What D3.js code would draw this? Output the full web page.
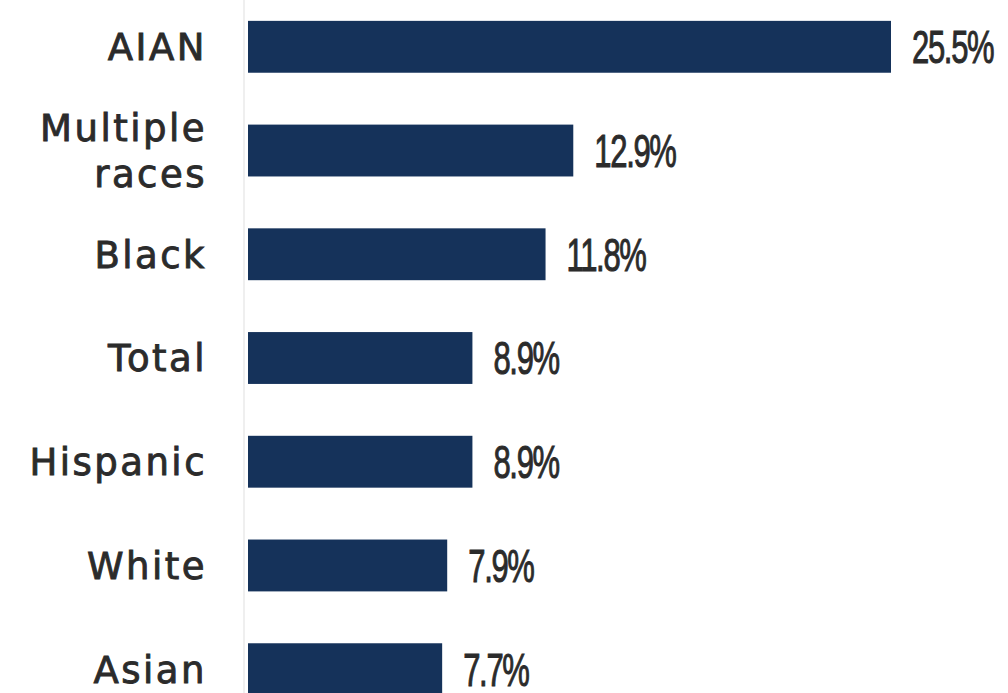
<!DOCTYPE html>
<html lang="en">
    <head>
        <meta charset="utf-8"/>
        <script src="https://d3js.org/d3.v7.min.js"></script>
        <style>
            body { margin: 0; background: #fff; }
        </style>
    </head>
    <body>
        <div id="chart"></div>
    </body>
    <script>
        var categories = ["AIAN", "Multiple races", "Black", "Total", "Hispanic", "White", "Asian"];
        var values = [25.5, 12.9, 11.8, 8.9, 8.9, 7.9, 7.7];
        var valueLabels = ["25.5%", "12.9%", "11.8%", "8.9%", "8.9%", "7.9%", "7.7%"];

        var width = 1008;
        var height = 693;

        var data = categories.map(function (c, i) {
            return { name: c, value: values[i], label: valueLabels[i] };
        });

        var svg = d3.select("#chart")
            .append("svg")
                .attr("width", width)
                .attr("height", height);

        var x = d3.scaleLinear()
            .domain([0, d3.max(values)])
            .range([248, 891]);

        var y = d3.scaleBand()
            .domain(categories)
            .range([-31, 747])
            .paddingInner(0.5)
            .paddingOuter(0.5);

        // faint baseline
        svg.append("line")
            .attr("x1", x(0) - 4)
            .attr("x2", x(0) - 4)
            .attr("y1", 0)
            .attr("y2", height)
            .attr("stroke", "#efefef")
            .attr("stroke-width", 2);

        svg.selectAll(".bar")
            .data(data)
            .enter()
            .append("rect")
                .attr("class", "bar")
                .attr("x", x(0))
                .attr("y", function (d) { return y(d.name); })
                .attr("width", function (d) { return x(d.value) - x(0); })
                .attr("height", y.bandwidth())
                .attr("fill", "#15325a");

        // category labels, wrapped to two lines where needed
        var labels = svg.selectAll(".cat")
            .data(data)
            .enter()
            .append("text")
                .attr("class", "cat")
                .attr("text-anchor", "end")
                .attr("font-family", "DejaVu Sans, sans-serif")
                .attr("font-size", 37)
                .attr("letter-spacing", 2.5)
                .attr("fill", "#2b2b2b")
                .attr("stroke", "#2b2b2b")
                .attr("stroke-width", 0.9);

        labels.each(function (d) {
            var words = d.name === "Multiple races" ? ["Multiple", "races"] : [d.name];
            var cy = y(d.name) + y.bandwidth() / 2;
            var lh = 46;
            var start = cy - (words.length - 1) * lh / 2;
            d3.select(this).selectAll("tspan")
                .data(words)
                .enter()
                .append("tspan")
                    .attr("x", 207)
                    .attr("y", function (w, i) { return start + i * lh; })
                    .attr("dy", "0.36em")
                    .text(function (w) { return w; });
        });

        // value labels in a condensed face
        svg.selectAll(".val")
            .data(data)
            .enter()
            .append("text")
                .attr("class", "val")
                .attr("transform", function (d) {
                    return "translate(" + (x(d.value) + 21) + "," + (y(d.name) + y.bandwidth() / 2) + ") scale(0.66,1)";
                })
                .attr("dy", "0.35em")
                .attr("font-family", "Liberation Sans Narrow, Liberation Sans, sans-serif")
                .attr("font-size", 47)
                .attr("letter-spacing", -2)
                .attr("fill", "#2b2b2b")
                .attr("stroke", "#2b2b2b")
                .attr("stroke-width", 1)
                .text(function (d) { return d.label; });
    </script>
</html>
